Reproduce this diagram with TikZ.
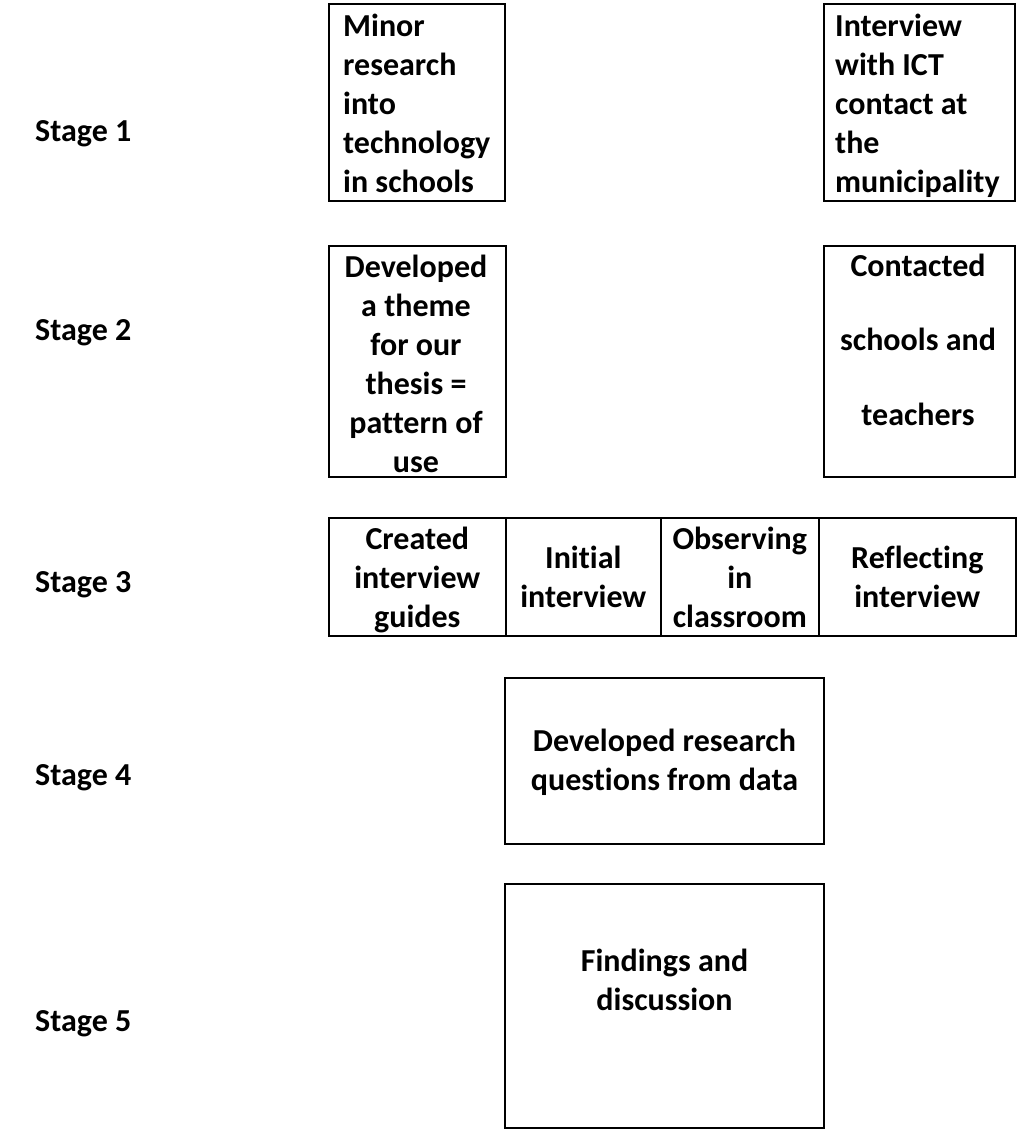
\documentclass[tikz,border=0pt]{standalone}
\usepackage{fontspec}
\setmainfont{Carlito}[Ligatures=NoCommon]
\begin{document}
\begin{tikzpicture}[x=1pt,y=-1pt,
  box/.style={draw=black,line width=2.4pt,inner sep=0pt,anchor=north west},
  cell/.style={draw=black,line width=1.6pt,inner sep=0pt,anchor=north west},
  txt/.style={inner sep=0pt,font=\fontsize{32}{39}\selectfont\bfseries},
  stagelbl/.style={inner sep=0pt,anchor=base west,font=\fontsize{32}{39}\selectfont\bfseries}]
\useasboundingbox (0,0) rectangle (1018,1129);
% stage labels
\node[stagelbl] (s1) at (35,142) {Stage 1};
\node[stagelbl] (s2) at (35,340) {Stage 2};
\node[stagelbl] (s3) at (35,592) {Stage 3};
\node[stagelbl] (s4) at (35,785) {Stage 4};
\node[stagelbl] (s5) at (35,1031) {Stage 5};
% stage 1
\node[box,minimum width=176pt,minimum height=197pt] (b1) at (328,3) {};
\node[txt,anchor=base west] (t1) at (343,37) {\begin{tabular}[t]{@{}l@{}}Minor\\research\\into\\technology\\in schools\end{tabular}};
\node[box,minimum width=191pt,minimum height=197pt] (b2) at (823,3) {};
\node[txt,anchor=base west] (t2) at (835,37) {\begin{tabular}[t]{@{}l@{}}Interview\\with ICT\\contact at\\the\\municipality\end{tabular}};
% stage 2
\node[box,minimum width=177pt,minimum height=231pt] (b3) at (328,245) {};
\node[txt,anchor=base] (t3) at (416,277) {\begin{tabular}[t]{@{}c@{}}Developed\\a theme\\for our\\thesis =\\pattern of\\use\end{tabular}};
\node[box,minimum width=191pt,minimum height=231pt] (b4) at (823,245) {};
\node[txt,anchor=base] (t4) at (918,276) {\def\arraystretch{1.92}\begin{tabular}[t]{@{}c@{}}Contacted\\schools and\\teachers\end{tabular}};
% stage 3
\node[cell,minimum width=177pt,minimum height=118pt] (c1) at (328,517) {};
\node[cell,minimum width=155pt,minimum height=118pt] (c2) at (505,517) {};
\node[cell,minimum width=158pt,minimum height=118pt] (c3) at (660,517) {};
\node[cell,minimum width=197pt,minimum height=118pt] (c4) at (818,517) {};
\node[txt,anchor=base] (tc1) at (c1.north |- 0,549) {\begin{tabular}[t]{@{}c@{}}Created\\interview\\guides\end{tabular}};
\node[txt,anchor=base] (tc2) at (c2.north |- 0,568) {\begin{tabular}[t]{@{}c@{}}Initial\\interview\end{tabular}};
\node[txt,anchor=base] (tc3) at (c3.north |- 0,549) {\begin{tabular}[t]{@{}c@{}}Observing\\in\\classroom\end{tabular}};
\node[txt,anchor=base] (tc4) at (c4.north |- 0,568) {\begin{tabular}[t]{@{}c@{}}Reflecting\\interview\end{tabular}};
% stage 4
\node[box,line width=2pt,minimum width=319pt,minimum height=166pt] (b6) at (504,677) {};
\node[txt,anchor=base] (t6) at (b6.north |- 0,751) {\begin{tabular}[t]{@{}c@{}}Developed research\\questions from data\end{tabular}};
% stage 5
\node[box,line width=2pt,minimum width=319pt,minimum height=244pt] (b7) at (504,883) {};
\node[txt,anchor=base] (t7) at (b7.north |- 0,971) {\begin{tabular}[t]{@{}c@{}}Findings and\\discussion\end{tabular}};
\end{tikzpicture}
\end{document}
